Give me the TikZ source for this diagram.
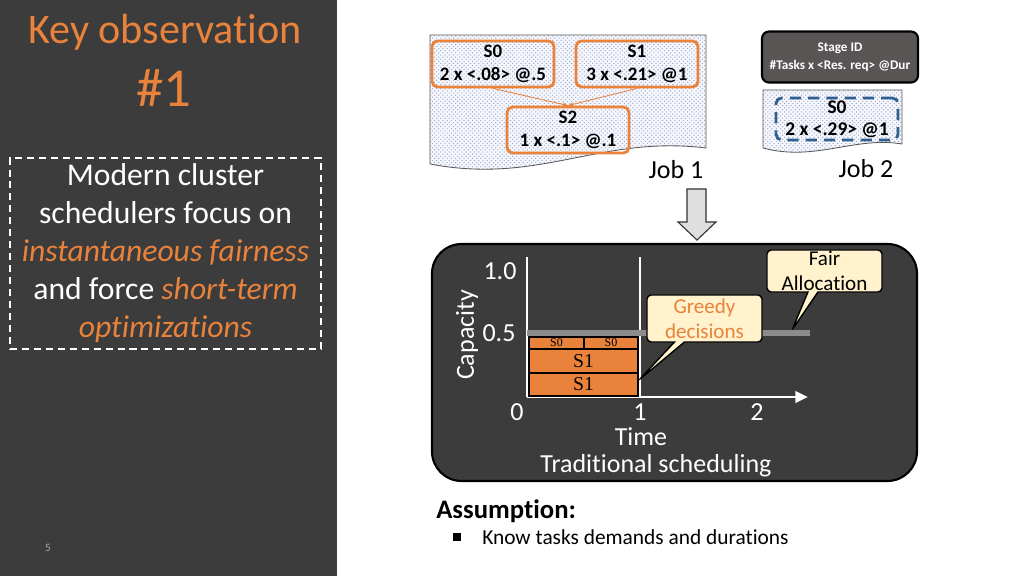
\documentclass[tikz,border=0pt]{standalone}
\usepackage{fontspec}
\setmainfont{Carlito}[Ligatures = NoCommon]
\newfontfamily\barfont{Liberation Serif}
\usetikzlibrary{positioning,arrows.meta,patterns,shapes.callouts}

\definecolor{panelgray}{HTML}{3C3C3C}
\definecolor{obsorange}{HTML}{E9823B}
\definecolor{calloutfill}{HTML}{FFF2CC}
\definecolor{legendgray}{HTML}{5A5555}
\definecolor{jobblue}{HTML}{2F5F8F}
\definecolor{fairgray}{HTML}{8C8C8C}
\definecolor{dotblue}{HTML}{9AAABF}

\tikzset{
  stagebox/.style = {draw = obsorange, line width = 2pt, rounded corners = 4pt,
                     minimum width = 3.05cm, minimum height = 1.15cm, align = center, inner sep = 0pt,
                     font = \bfseries\fontsize{13.5}{16.5}\selectfont},
  jobdoc/.style    = {draw = gray!70!black, line width = 0.6pt, preaction = {fill = blue!3},
                      pattern = crosshatch dots, pattern color = dotblue},
  joblabel/.style  = {font = \fontsize{18.5}{20}\selectfont},
  axislabel/.style = {text = white, font = \fontsize{18.5}{20}\selectfont, inner sep = 0pt},
  taskbar/.style   = {draw = black, line width = 0.8pt, fill = obsorange, inner sep = 0pt, font = \barfont},
  balloon/.style   = {rectangle callout, draw = black, line width = 1pt, fill = calloutfill, rounded corners = 3pt,
                      align = center, inner sep = 0pt, font = \fontsize{15}{17.5}\selectfont,
                      minimum width = 2.875cm}
}

\begin{document}
\begin{tikzpicture}[x = 0.025cm, y = -0.025cm]
\useasboundingbox (0,0) rectangle (1024,576);

% left panel
\fill[panelgray] (0,0) rectangle (337,576);
\node[text = obsorange, font = \fontsize{30}{32}\selectfont] (title) at (165,32) {Key observation};
\node[text = obsorange, font = \fontsize{39}{40}\selectfont] (obsnum) at (164,88) {\#1};
\node[draw = white, dashed, dash pattern = on 5pt off 3.5pt, line width = 1.4pt,
      minimum width = 7.775cm, minimum height = 4.775cm, align = center, text = white,
      font = \fontsize{22.5}{27}\selectfont] (obstext) at (165.5,253.5)
  {Modern cluster\\ schedulers focus on\\ \textcolor{obsorange}{\itshape instantaneous fairness}\\
   and force \textcolor{obsorange}{\itshape short-term}\\ \textcolor{obsorange}{\itshape optimizations}};
\node[text = gray!70, font = \fontsize{8}{9}\selectfont] (pagenum) at (48,548) {5};

% job 1
\draw[jobdoc] (430,35) -- (706,35) -- (706,148) .. controls (600,135) and (540,185) .. (430,164) -- cycle;
\node[stagebox] (S0) at (493,64) {S0\\ 2 x <.08> @.5};
\node[stagebox] (S1) at (637,64) {S1\\ 3 x <.21> @1};
\node[stagebox] (S2) at (568,130) {S2\\ 1 x <.1> @.1};
\draw[obsorange, line width = 0.6pt, -{Stealth[length = 4pt]}] (S0.south) -- (S2.north);
\draw[obsorange, line width = 0.6pt, -{Stealth[length = 4pt]}] (S1.south) -- (S2.north);
\node[joblabel] (job1) at (676,170) {Job 1};

% legend and job 2
\node[draw = black, line width = 1.5pt, fill = legendgray, rounded corners = 5pt, text = white,
      minimum width = 3.9cm, minimum height = 1.275cm, align = center,
      font = \bfseries\fontsize{9.4}{12.5}\selectfont] (legend) at (840,57)
  {Stage ID\\ \#Tasks x <Res. req> @Dur};
\draw[jobdoc] (763,90) -- (902,90) -- (902,144) .. controls (855,136) and (815,162) .. (763,148) -- cycle;
\node[stagebox, draw = jobblue, dashed, dash pattern = on 8pt off 5pt, line width = 2pt,
      minimum width = 3.05cm, minimum height = 1.05cm, font = \bfseries\fontsize{13.8}{15.6}\selectfont] (J2S0) at (837,119)
  {S0\\ 2 x <.29> @1};
\node[joblabel] (job2) at (866,169) {Job 2};

% down arrow
\draw[fill = gray!25, draw = gray!40!black, line width = 0.8pt]
  (687,189) -- (706,189) -- (706,222) -- (716,222) -- (697,240) -- (678,222) -- (687,222) -- cycle;

% schedule chart
\draw[fill = panelgray, draw = black, line width = 1.5pt, rounded corners = 21pt] (432,244) rectangle (917,481);
\coordinate (origin) at (527,397);
\coordinate (ytop) at (527,257);
\coordinate (xend) at (808,397);
\coordinate (tone) at (640,257);
\coordinate (tonebase) at (640,397);
\draw[white, line width = 2pt] (origin) -- (ytop);
\draw[white, line width = 2pt] (tone) -- (tonebase);
\draw[white, line width = 2pt, -{Triangle[length = 9pt, width = 8pt]}] (origin) -- (xend);
\coordinate (fairstart) at (527,333);
\coordinate (fairend) at (810,333);
\draw[fairgray, line width = 4.3pt] (fairstart) -- (fairend);

\node[taskbar, minimum width = 1.375cm, minimum height = 0.3cm, font = \barfont\fontsize{8.5}{9}\selectfont] (barA) at (556.5,343) {S0};
\node[taskbar, minimum width = 1.35cm, minimum height = 0.3cm, font = \barfont\fontsize{8.5}{9}\selectfont] (barB) at (611,343) {S0};
\node[taskbar, minimum width = 2.725cm, minimum height = 0.6cm, font = \barfont\fontsize{14}{15}\selectfont] (barC) at (583.5,361) {S1};
\node[taskbar, minimum width = 2.725cm, minimum height = 0.575cm, font = \barfont\fontsize{14}{15}\selectfont] (barD) at (583.5,384.5) {S1};

\node[axislabel] (ylabA) at (500,271) {1.0};
\node[axislabel] (ylabB) at (499,333) {0.5};
\node[axislabel] (xlabA) at (517,412) {0};
\node[axislabel] (xlabB) at (640,412) {1};
\node[axislabel] (xlabC) at (757,412) {2};
\node[axislabel] (timelab) at (641,437) {Time};
\node[axislabel] (chartname) at (656,466) {Traditional scheduling};
\node[axislabel, rotate = 90] (caplab) at (467,335) {Capacity};

\node[balloon, minimum height = 1.175cm, text = obsorange, callout absolute pointer = {(639,380)}] (greedy) at (704.5,318.5)
  {Greedy\\ decisions};
\node[balloon, minimum height = 1.05cm, callout absolute pointer = {(792,330)}] (fair) at (824.5,271)
  {Fair\\ Allocation};

% assumption
\node[anchor = west, inner sep = 0pt, font = \bfseries\fontsize{19}{21}\selectfont] (assume) at (436,511) {Assumption:};
\node[fill = black, inner sep = 0pt, minimum size = 5pt] (bullet) at (457,537) {};
\node[anchor = west, inner sep = 0pt, font = \fontsize{15.2}{17}\selectfont] (knowtasks) at (482,537) {Know tasks demands and durations};
\end{tikzpicture}
\end{document}
